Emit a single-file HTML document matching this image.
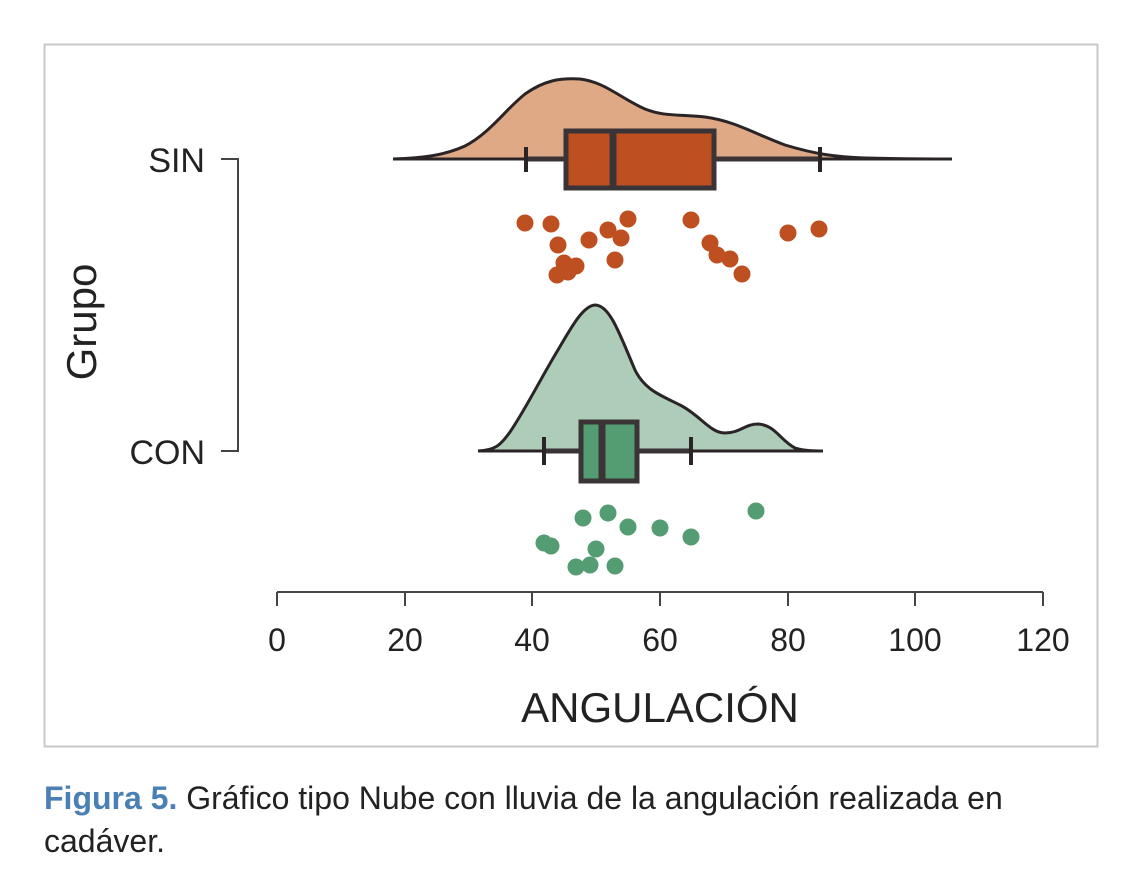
<!DOCTYPE html>
<html><head><meta charset="utf-8"><style>
body{margin:0;background:#fff;width:1144px;height:892px;overflow:hidden;font-family:"Liberation Sans",sans-serif;}
.cap{position:absolute;left:44px;top:777px;font-size:32px;line-height:43px;color:#222;width:1060px;}
.cap b{color:#4a80b4;}
</style></head><body>
<svg width="1144" height="892" style="position:absolute;left:0;top:0">
<rect x="44.5" y="44.5" width="1053" height="702" fill="none" stroke="#c8c8c8" stroke-width="2"/>
<path d="M393,159 C425,158 445,155 465,146 C490,133 505,110 525,94 C545,80 560,78 580,79 C605,82 620,98 645,109 C665,117 680,114 705,117 C735,121 755,134 785,145 C815,154 835,157 865,158 C900,159 930,159 952,159 Z" fill="#dfa986" stroke="#2a2426" stroke-width="3"/>
<line x1="526" y1="159" x2="820" y2="159" stroke="#3a3436" stroke-width="5"/>
<line x1="526" y1="147" x2="526" y2="172" stroke="#2a2426" stroke-width="4"/>
<line x1="820" y1="147" x2="820" y2="172" stroke="#2a2426" stroke-width="4"/>
<rect x="566" y="131" width="148" height="57" fill="#bd4f21" stroke="#3a3436" stroke-width="5"/>
<line x1="613" y1="131" x2="613" y2="188" stroke="#3a3436" stroke-width="7"/>
<g fill="#bd4f21">
<circle cx="525" cy="223" r="8.5"/><circle cx="551" cy="224" r="8.5"/><circle cx="628" cy="219" r="8.5"/><circle cx="691" cy="220" r="8.5"/><circle cx="788" cy="233" r="8.5"/><circle cx="819" cy="229" r="8.5"/><circle cx="558" cy="245" r="8.5"/><circle cx="589" cy="240" r="8.5"/><circle cx="608" cy="230" r="8.5"/><circle cx="621" cy="238" r="8.5"/><circle cx="710" cy="243" r="8.5"/><circle cx="717" cy="255" r="8.5"/><circle cx="730" cy="259" r="8.5"/><circle cx="742" cy="274" r="8.5"/><circle cx="615" cy="260" r="8.5"/><circle cx="564" cy="263" r="8.5"/><circle cx="576" cy="266" r="8.5"/><circle cx="557" cy="275" r="8.5"/><circle cx="568" cy="272" r="8.5"/>
</g>
<path d="M478,451 C495,450 500,446 510,432 C525,410 540,380 555,355 C570,330 582,306 595,305 C610,305 620,335 635,370 C645,390 660,395 680,405 C700,415 710,433 725,433 C740,433 745,424 758,424 C775,425 780,440 795,448 C805,451 815,451 823,451 Z" fill="#aecdb8" stroke="#2a2426" stroke-width="3"/>
<line x1="544" y1="451" x2="691" y2="451" stroke="#3a3436" stroke-width="5"/>
<line x1="544" y1="437" x2="544" y2="465" stroke="#2a2426" stroke-width="4"/>
<line x1="691" y1="437" x2="691" y2="465" stroke="#2a2426" stroke-width="4"/>
<rect x="581" y="422" width="56" height="59" fill="#549c72" stroke="#3a3436" stroke-width="5"/>
<line x1="602" y1="422" x2="602" y2="481" stroke="#3a3436" stroke-width="7"/>
<g fill="#549c72">
<circle cx="583" cy="518" r="8.5"/><circle cx="608" cy="513" r="8.5"/><circle cx="628" cy="527" r="8.5"/><circle cx="660" cy="528" r="8.5"/><circle cx="691" cy="537" r="8.5"/><circle cx="756" cy="511" r="8.5"/><circle cx="544" cy="543" r="8.5"/><circle cx="551" cy="546" r="8.5"/><circle cx="596" cy="549" r="8.5"/><circle cx="590" cy="565" r="8.5"/><circle cx="576" cy="567" r="8.5"/><circle cx="615" cy="566" r="8.5"/>
</g>
<path d="M221,159 H238 V451 H221" fill="none" stroke="#444" stroke-width="2"/>
<text x="205" y="172" text-anchor="end" font-size="34" fill="#222">SIN</text>
<text x="205" y="464" text-anchor="end" font-size="34" fill="#222">CON</text>
<text transform="translate(96,322) rotate(-90)" text-anchor="middle" font-size="42" fill="#222">Grupo</text>
<g stroke="#444" stroke-width="2">
<line x1="277" y1="592" x2="1043" y2="592"/>
<line x1="277" y1="592" x2="277" y2="606"/><line x1="405" y1="592" x2="405" y2="606"/><line x1="532" y1="592" x2="532" y2="606"/><line x1="660" y1="592" x2="660" y2="606"/><line x1="788" y1="592" x2="788" y2="606"/><line x1="915" y1="592" x2="915" y2="606"/><line x1="1043" y1="592" x2="1043" y2="606"/>
</g>
<g font-size="32" fill="#222" text-anchor="middle">
<text x="277" y="651">0</text><text x="405" y="651">20</text><text x="532" y="651">40</text><text x="660" y="651">60</text><text x="788" y="651">80</text><text x="915" y="651">100</text><text x="1043" y="651">120</text>
</g>
<text x="660" y="722" text-anchor="middle" font-size="42" fill="#222">ANGULACIÓN</text>
</svg>
<div class="cap"><b>Figura 5.</b> Gráfico tipo Nube con lluvia de la angulación realizada en<br>cadáver.</div>
</body></html>
